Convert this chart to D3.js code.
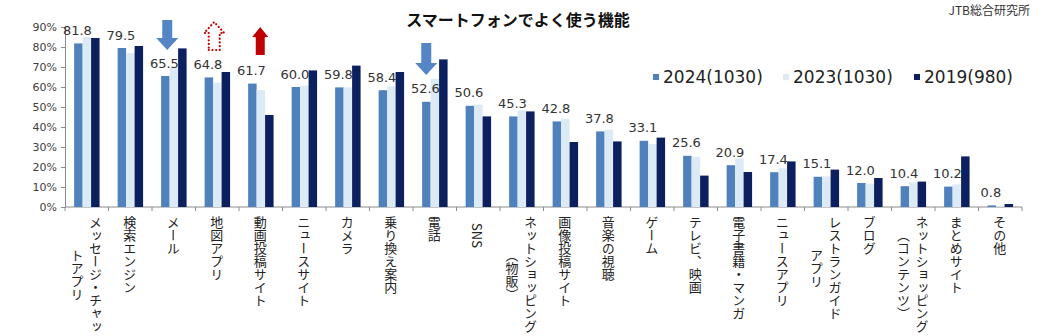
<!DOCTYPE html>
<html>
<head>
<meta charset="utf-8">
<script src="https://cdn.jsdelivr.net/npm/d3@7"></script>
<style>
  body { margin: 0; background: #fff; }
  svg { display: block; }
</style>
</head>
<body>
<div id="chart"></div>
<script>
// Categories (line breaks where the original label wraps)
const categories = [
    "メッセージ・チャッ\nトアプリ", "検索エンジン", "メール", "地図アプリ", "動画投稿サイト",
    "ニュースサイト", "カメラ", "乗り換え案内", "電話", "SNS",
    "ネットショッピング\n（物販）", "画像投稿サイト", "音楽の視聴", "ゲーム", "テレビ、映画",
    "電子書籍・マンガ", "ニュースアプリ", "レストランガイド\nアプリ", "ブログ",
    "ネットショッピング\n（コンテンツ）", "まとめサイト", "その他"
];

const seriesNames = ["2024(1030)", "2023(1030)", "2019(980)"];

const values2024 = [81.8, 79.5, 65.5, 64.8, 61.7, 60.0, 59.8, 58.4, 52.6, 50.6, 45.3, 42.8, 37.8, 33.1, 25.6, 20.9, 17.4, 15.1, 12.0, 10.4, 10.2, 0.8];
const values2023 = [85.0, 77.0, 69.8, 62.2, 58.5, 60.7, 59.8, 60.3, 64.0, 51.2, 48.3, 44.2, 38.7, 31.5, 25.0, 24.2, 19.3, 15.3, 11.7, 12.3, 11.3, 0.4];
const values2019 = [84.5, 80.5, 79.3, 67.5, 46.0, 68.3, 70.7, 67.5, 73.8, 45.3, 47.8, 32.5, 32.8, 34.7, 15.7, 17.5, 22.8, 18.7, 14.5, 12.7, 25.3, 1.5];

const yTicks = [0, 10, 20, 30, 40, 50, 60, 70, 80, 90];

const colors = ["#4f81bd", "#dbeaf4", "#0c2060"];

const width = 1056, height = 336;
const jpFont = "'Noto Sans CJK JP', 'Noto Sans', sans-serif";
const numFont = "'DejaVu Sans', Verdana, sans-serif";

const svg = d3.select("#chart").append("svg")
    .attr("width", width)
    .attr("height", height);

// Scales
const x0 = d3.scaleBand()
    .domain(categories)
    .range([65, 1022]);

const x1 = d3.scaleBand()
    .domain(seriesNames)
    .range([x0.bandwidth() * 0.21, x0.bandwidth() * 0.795]);

const y = d3.scaleLinear()
    .domain([0, 90])
    .range([207, 27]);

// Title and source
svg.append("text")
    .attr("x", 518)
    .attr("y", 26)
    .attr("text-anchor", "middle")
    .style("font-family", jpFont)
    .style("font-size", "16px")
    .style("font-weight", "bold")
    .style("fill", "#111")
    .text("スマートフォンでよく使う機能");

svg.append("text")
    .attr("x", 1030)
    .attr("y", 15)
    .attr("text-anchor", "end")
    .style("font-family", jpFont)
    .style("font-size", "12px")
    .style("fill", "#333")
    .text("JTB総合研究所");

// Y axis
const yAxis = svg.append("g")
    .attr("transform", "translate(65,0)")
    .call(d3.axisLeft(y).tickValues(yTicks).tickFormat(d => d + "%").tickSize(4).tickPadding(4));
yAxis.selectAll("line, path").attr("stroke", "#8c8c8c");
yAxis.selectAll("text")
    .style("font-family", numFont)
    .style("font-size", "11px")
    .style("fill", "#404040");

// X axis line with ticks at category boundaries
const xAxis = svg.append("g");
xAxis.append("line")
    .attr("x1", x0.range()[0]).attr("x2", x0.range()[1])
    .attr("y1", y(0)).attr("y2", y(0))
    .attr("stroke", "#8c8c8c");
const boundaries = categories.map(c => x0(c)).concat([x0.range()[1]]);
xAxis.selectAll(".xtick")
    .data(boundaries)
    .enter()
    .append("line")
    .attr("x1", d => d).attr("x2", d => d)
    .attr("y1", y(0)).attr("y2", y(0) + 4)
    .attr("stroke", "#8c8c8c");

// Bars
const allValues = [values2024, values2023, values2019];
allValues.forEach((vals, s) => {
    svg.append("g")
        .selectAll("rect")
        .data(vals)
        .enter()
        .append("rect")
        .attr("x", (d, i) => x0(categories[i]) + x1(seriesNames[s]))
        .attr("y", d => y(d))
        .attr("width", x1.bandwidth())
        .attr("height", d => y(0) - y(d))
        .attr("fill", colors[s]);
});

// Value labels for 2024
svg.append("g")
    .selectAll("text")
    .data(values2024)
    .enter()
    .append("text")
    .attr("x", (d, i) => x0(categories[i]) + x1(seriesNames[0]) + x1.bandwidth() / 2 - 1)
    .attr("y", d => y(d) - 8.5)
    .attr("text-anchor", "middle")
    .style("font-family", numFont)
    .style("font-size", "13px")
    .style("fill", "#333")
    .text(d => d.toFixed(1));

// Category labels, vertical writing, lines centred on each other
const fs = 13;
const labelTop = 216;
categories.forEach(c => {
    const lines = c.split("\n");
    const maxLen = d3.max(lines, l => l.length);
    const cy = labelTop + maxLen * fs / 2;
    const cx = x0(c) + x0.bandwidth() / 2 - 0.5;
    const gap = 18.5;
    lines.forEach((line, k) => {
        const lx = cx + (lines.length - 1) * gap / 2 - k * gap;
        svg.append("text")
            .attr("x", lx)
            .attr("y", cy)
            .attr("text-anchor", "middle")
            .style("writing-mode", "vertical-rl")
            .style("font-family", jpFont)
            .style("font-size", fs + "px")
            .style("fill", "#222")
            .text(line);
    });
});

// Legend
const legend = svg.append("g");
const legendX = [653, 783, 914];
seriesNames.forEach((name, i) => {
    legend.append("rect")
        .attr("x", legendX[i])
        .attr("y", 74)
        .attr("width", 6)
        .attr("height", 6)
        .attr("fill", colors[i]);
    legend.append("text")
        .attr("x", legendX[i] + 10)
        .attr("y", 83)
        .style("font-family", numFont)
        .style("font-size", "17px")
        .style("fill", "#222")
        .text(name);
});

// Annotation arrows
function arrowPath(cx, tail, base, tip, shaftW, headW) {
    const s = shaftW / 2, h = headW / 2;
    return `M${cx - s},${tail} L${cx + s},${tail} L${cx + s},${base} L${cx + h},${base} ` +
        `L${cx},${tip} L${cx - h},${base} L${cx - s},${base} Z`;
}

const arrows = [
    {cat: "メール", dx: -6.5, tail: 20, base: 38, tip: 50, shaft: 10, head: 22, style: "blue"},
    {cat: "地図アプリ", dx: -3, tail: 50, base: 33, tip: 22, shaft: 11, head: 20, style: "dotted"},
    {cat: "動画投稿サイト", dx: -0.5, tail: 55, base: 37, tip: 27, shaft: 9, head: 16, style: "red"},
    {cat: "電話", dx: -8.5, tail: 43, base: 63, tip: 75, shaft: 10, head: 22, style: "blue"}
];

arrows.forEach(a => {
    const cx = x0(a.cat) + x0.bandwidth() / 2 + a.dx;
    const p = svg.append("path")
        .attr("d", arrowPath(cx, a.tail, a.base, a.tip, a.shaft, a.head));
    if (a.style === "blue") {
        p.attr("fill", "#5486c6");
    } else if (a.style === "red") {
        p.attr("fill", "#c00000");
    } else {
        p.attr("fill", "#fff")
            .attr("stroke", "#c00000")
            .attr("stroke-width", 2.2)
            .attr("stroke-linecap", "round")
            .attr("stroke-dasharray", "0.1,3.6");
    }
});
</script>
</body>
</html>
